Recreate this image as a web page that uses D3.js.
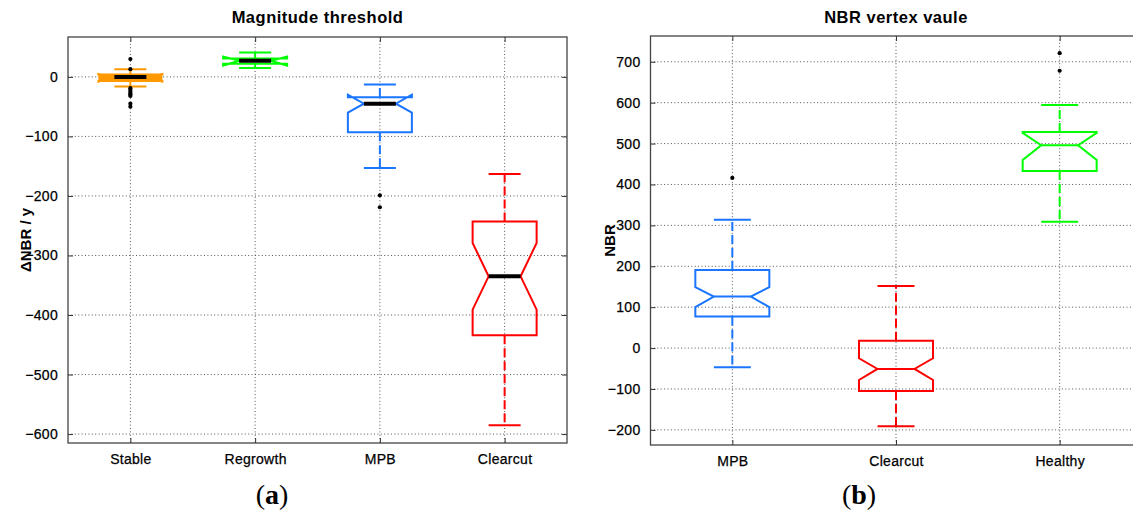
<!DOCTYPE html>
<html>
<head>
<meta charset="utf-8">
<script src="https://cdn.jsdelivr.net/npm/d3@7/dist/d3.min.js"></script>
<style>
  html, body { margin: 0; padding: 0; background: #fff; }
  svg { display: block; }
  text { font-family: "Liberation Sans", Arial, Helvetica, sans-serif; fill: #000; }
</style>
</head>
<body>
<svg id="chart" width="1133" height="512"></svg>
<script>
// ---------------- Panel (a): Magnitude threshold ----------------
const catsA = ["Stable", "Regrowth", "MPB", "Clearcut"];
const colorsA = ["#ff9900", "#00ff00", "#1a75ff", "#ff0000"];
const whiskerHiA = [13, 41, -13, -163];
const q3A = [4, 31, -34, -243];
const notchHiA = [5, 34, -30, -279];
const medianA = [0, 27, -45, -335];
const notchLoA = [-8, 19, -60, -391];
const q1A = [-7, 22, -93, -434];
const whiskerLoA = [-16, 15, -153, -585];
const outliersA = [
  [30, 13, -19, -22, -25, -28, -30, -32, -45, -50],
  [],
  [-199, -219],
  []
];
const yTicksA = [-600, -500, -400, -300, -200, -100, 0];
const yDomainA = [-615, 67];

// ---------------- Panel (b): NBR vertex vaule ----------------
const catsB = ["MPB", "Clearcut", "Healthy"];
const colorsB = ["#1a75ff", "#ff0000", "#00ff00"];
const whiskerHiB = [314, 152, 594];
const q3B = [191, 18, 528];
const notchHiB = [149, -25, 526];
const medianB = [126, -51, 496];
const notchLoB = [100, -78, 460];
const q1B = [77, -105, 433];
const whiskerLoB = [-47, -191, 309];
const outliersB = [[416], [], [721, 678]];
const yTicksB = [-200, -100, 0, 100, 200, 300, 400, 500, 600, 700];
const yDomainB = [-237, 763];

const svg = d3.select("#chart");

function drawPanel(p) {
  const g = svg.append("g");
  const n = p.cats.length;
  const x = d3.scaleLinear().domain([0.5, n + 0.5]).range([p.left, p.right]);
  const y = d3.scaleLinear().domain(p.yDomain).range([p.bottom, p.top]);
  const idx = d3.range(n);

  const clipId = "clip" + p.id;
  svg.append("clipPath").attr("id", clipId).append("rect")
    .attr("x", p.left).attr("y", p.top)
    .attr("width", p.right - p.left).attr("height", p.bottom - p.top);

  // grid
  const grid = g.append("g").attr("clip-path", `url(#${clipId})`);
  grid.selectAll("line.hg").data(p.yTicks).join("line")
    .attr("x1", p.left).attr("x2", p.right)
    .attr("y1", d => y(d)).attr("y2", d => y(d))
    .attr("stroke", "#555").attr("stroke-width", 1).attr("stroke-dasharray", "1,2.4");
  grid.selectAll("line.vg").data(idx).join("line")
    .attr("x1", i => x(i + 1)).attr("x2", i => x(i + 1))
    .attr("y1", p.top).attr("y2", p.bottom)
    .attr("stroke", "#555").attr("stroke-width", 1).attr("stroke-dasharray", "1,2.4");

  const tickFont = sel => sel.style("font-size", "14px").style("letter-spacing", "0.3px")
    .attr("fill", "#000").attr("stroke", "#000").attr("stroke-width", 0.25);

  const yAxisL = d3.axisLeft(y).tickValues(p.yTicks).tickSizeInner(-5).tickSizeOuter(0).tickPadding(10);
  const gy = g.append("g").attr("transform", `translate(${p.left},0)`).call(yAxisL);
  gy.select(".domain").remove();
  gy.selectAll("line").attr("stroke", "#333");
  gy.selectAll("text").call(tickFont);

  const yAxisR = d3.axisRight(y).tickValues(p.yTicks).tickSizeInner(-5).tickSizeOuter(0).tickFormat("");
  const gyr = g.append("g").attr("transform", `translate(${p.right},0)`).call(yAxisR);
  gyr.select(".domain").remove();
  gyr.selectAll("line").attr("stroke", "#333");

  const xAxisB = d3.axisBottom(x).tickValues(idx.map(i => i + 1))
    .tickFormat(v => p.cats[v - 1]).tickSizeInner(-5).tickSizeOuter(0).tickPadding(11);
  const gx = g.append("g").attr("transform", `translate(0,${p.bottom})`).call(xAxisB);
  gx.select(".domain").remove();
  gx.selectAll("line").attr("stroke", "#333");
  gx.selectAll("text").call(tickFont);

  const xAxisT = d3.axisTop(x).tickValues(idx.map(i => i + 1)).tickFormat("").tickSizeInner(-5).tickSizeOuter(0);
  const gxt = g.append("g").attr("transform", `translate(0,${p.top})`).call(xAxisT);
  gxt.select(".domain").remove();
  gxt.selectAll("line").attr("stroke", "#333");

  g.append("rect").attr("x", p.left).attr("y", p.top)
    .attr("width", p.right - p.left).attr("height", p.bottom - p.top)
    .attr("fill", "none").attr("stroke", "#444").attr("stroke-width", 1.3);

  const hw = p.boxW / 2;
  const qw = p.boxW / 4;
  const boxes = g.append("g");

  idx.forEach(i => {
    const cx = x(i + 1);
    const c = p.colors[i];
    boxes.append("line").attr("x1", cx).attr("x2", cx)
      .attr("y1", y(p.q3[i])).attr("y2", y(p.wHi[i]))
      .attr("stroke", c).attr("stroke-width", 2).attr("stroke-dasharray", "9,4");
    boxes.append("line").attr("x1", cx).attr("x2", cx)
      .attr("y1", y(p.q1[i])).attr("y2", y(p.wLo[i]))
      .attr("stroke", c).attr("stroke-width", 2).attr("stroke-dasharray", "9,4");
    [p.wHi[i], p.wLo[i]].forEach(v => {
      boxes.append("line").attr("x1", cx - qw).attr("x2", cx + qw)
        .attr("y1", y(v)).attr("y2", y(v))
        .attr("stroke", c).attr("stroke-width", 2);
    });
    // very short boxes render as a solid bar in the reference
    if (p.solid && p.solid[i]) {
      const top = y(Math.max(p.q3[i], p.nHi[i])), bot = y(Math.min(p.q1[i], p.nLo[i]));
      boxes.append("rect").attr("x", cx - hw).attr("y", top)
        .attr("width", p.boxW).attr("height", bot - top).attr("fill", c);
    }
    const pts = [
      [cx - hw, y(p.q1[i])], [cx - hw, y(p.nLo[i])], [cx - qw, y(p.med[i])],
      [cx - hw, y(p.nHi[i])], [cx - hw, y(p.q3[i])], [cx + hw, y(p.q3[i])],
      [cx + hw, y(p.nHi[i])], [cx + qw, y(p.med[i])], [cx + hw, y(p.nLo[i])],
      [cx + hw, y(p.q1[i])]
    ];
    boxes.append("path").attr("d", d3.line()(pts) + "Z")
      .attr("fill", "none").attr("stroke", c).attr("stroke-width", 2);
    boxes.append("line").attr("x1", cx - qw).attr("x2", cx + qw)
      .attr("y1", y(p.med[i])).attr("y2", y(p.med[i]))
      .attr("stroke", p.medColor || c).attr("stroke-width", p.medW);
    boxes.selectAll(null).data(p.outliers[i]).join("circle")
      .attr("cx", cx).attr("cy", v => y(v)).attr("r", 2.1).attr("fill", "#000");
  });

  svg.append("text").attr("x", (p.left + p.right) / 2).attr("y", 23)
    .attr("text-anchor", "middle").style("font-size", "16.5px").style("font-weight", "bold")
    .style("letter-spacing", "0.5px")
    .text(p.title);
  svg.append("text").attr("transform", `translate(${p.ylabX},${(p.top + p.bottom) / 2}) rotate(-90)`)
    .attr("text-anchor", "middle").style("font-size", "15px").style("font-weight", "bold")
    .text(p.ylabel);
  const sub = svg.append("text").attr("x", p.subX).attr("y", 504)
    .attr("text-anchor", "middle")
    .style("font-family", "'Liberation Serif', 'Times New Roman', serif")
    .style("font-size", "28px");
  sub.append("tspan").text("(");
  sub.append("tspan").style("font-weight", "bold").text(p.sub);
  sub.append("tspan").text(")");
}

drawPanel({
  id: "a", cats: catsA, colors: colorsA,
  wHi: whiskerHiA, q3: q3A, nHi: notchHiA, med: medianA, nLo: notchLoA, q1: q1A, wLo: whiskerLoA,
  outliers: outliersA, yTicks: yTicksA, yDomain: yDomainA,
  left: 68, right: 567, top: 37, bottom: 443, boxW: 64,
  medColor: "#000", medW: 4, solid: [true, false, false, false],
  title: "Magnitude threshold", ylabel: "\u0394NBR / y", ylabX: 31, subX: 272, sub: "a"
});

drawPanel({
  id: "b", cats: catsB, colors: colorsB,
  wHi: whiskerHiB, q3: q3B, nHi: notchHiB, med: medianB, nLo: notchLoB, q1: q1B, wLo: whiskerLoB,
  outliers: outliersB, yTicks: yTicksB, yDomain: yDomainB,
  left: 650.5, right: 1141.5, top: 36, bottom: 445, boxW: 74,
  medW: 2,
  title: "NBR vertex vaule", ylabel: "NBR", ylabX: 615, subX: 859, sub: "b"
});
</script>
</body>
</html>
